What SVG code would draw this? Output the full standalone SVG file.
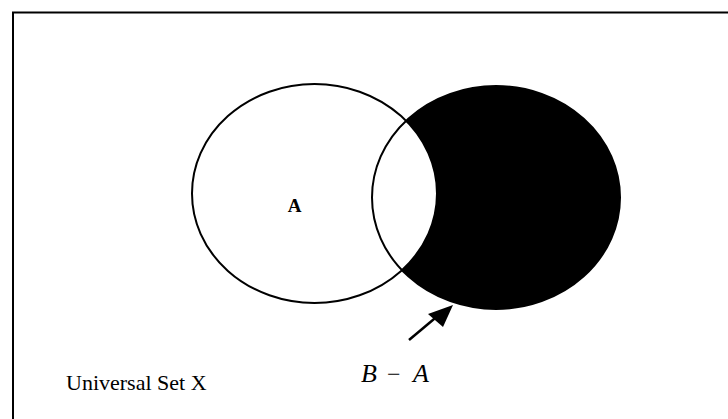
<svg xmlns="http://www.w3.org/2000/svg" width="728" height="419" viewBox="0 0 728 419">
<defs>
<style>
.frame{fill:none;stroke:#000;stroke-width:2}
.outline{stroke:#000;stroke-width:2}
.lbl{font-family:"Liberation Serif",serif;fill:#000}
</style>
</defs>
<rect width="728" height="419" fill="#fff"/>
<path class="frame" d="M13,420 V12.5 H729"/>
<g id="setB-fill">
<ellipse cx="496" cy="197.5" rx="124" ry="111.5" fill="#000"/>
</g>
<g id="setA">
<ellipse class="outline" cx="314.5" cy="193.5" rx="122.5" ry="109.5" fill="#fff"/>
<text class="lbl" x="294.5" y="212" font-size="19" font-weight="bold" text-anchor="middle">A</text>
</g>
<g id="setB">
<ellipse class="outline" cx="496" cy="197.5" rx="124" ry="111.5" fill="none"/>
</g>
<g id="connectors">
<line x1="409" y1="340" x2="440" y2="314" stroke="#000" stroke-width="2.5"/>
<path d="M453,305 L428,314 L443,327 z" fill="#000"/>
</g>
<g id="label-BA">
<text class="lbl" y="382" font-size="26" font-style="italic"><tspan x="361">B</tspan><tspan x="387" font-style="normal" font-size="24">−</tspan><tspan x="413">A</tspan></text>
</g>
<g id="label-universal">
<text class="lbl" x="66" y="390" font-size="22">Universal Set X</text>
</g>
</svg>
